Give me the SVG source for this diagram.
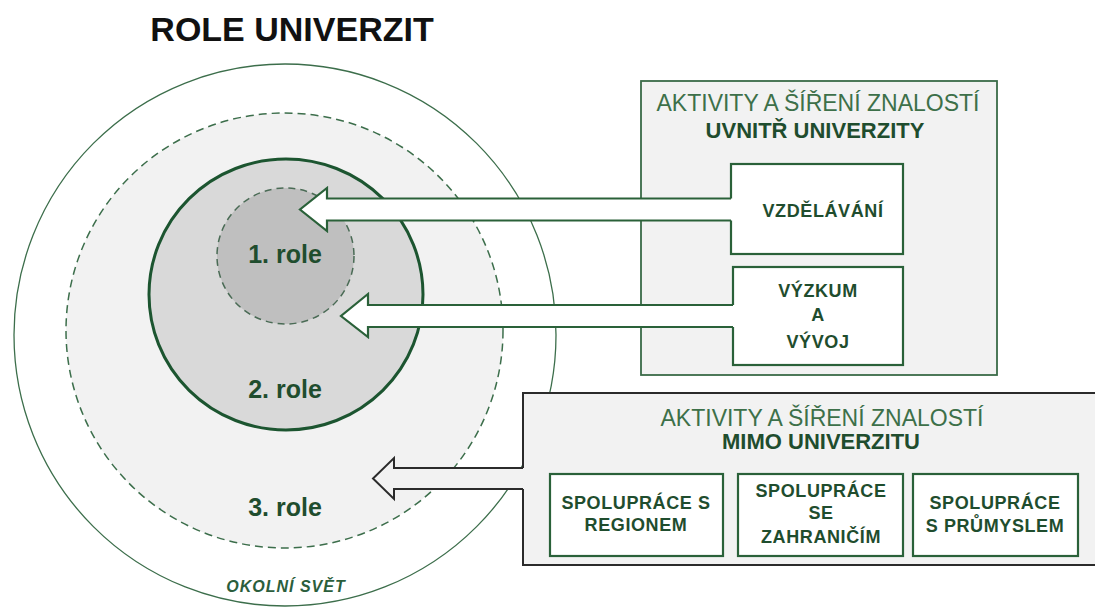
<svg xmlns="http://www.w3.org/2000/svg" width="1095" height="607" viewBox="0 0 1095 607">
<style>
text{font-family:"Liberation Sans",Arial,sans-serif;text-anchor:middle}
.title{font-size:34px;font-weight:bold;fill:#111}
.role{font-size:25px;font-weight:bold;fill:#1f4d2e}
.world{font-size:16px;font-weight:bold;font-style:italic;fill:#2b5e3c;letter-spacing:1px}
.hd{font-size:23px;fill:#3d7049}
.hdb{font-size:22px;font-weight:bold;fill:#1f4d2e}
.lbl{font-size:18px;font-weight:bold;fill:#1f4d2e;letter-spacing:0.6px}
.cont{fill:#f2f2f2;stroke:#3a6b48;stroke-width:1.8}
.sub{fill:#fff;stroke:#2a6139;stroke-width:2.2}
.arrF{fill:#fff;stroke:none}
.arrS{fill:none;stroke:#2a6139;stroke-width:2.2;stroke-linejoin:miter}
</style>
<text class="title" x="292" y="41">ROLE UNIVERZIT</text>
<g id="world">
<circle cx="285" cy="335" r="271" fill="#fff" stroke="#3c6e4b" stroke-width="1.3"/>
<text class="world" x="286" y="592">OKOLNÍ SVĚT</text>
</g>
<g id="role3">
<ellipse cx="284.5" cy="330.5" rx="218.5" ry="217.5" fill="#f2f2f2" stroke="#3c6e4b" stroke-width="1.5" stroke-dasharray="8 5"/>
<text class="role" x="285" y="516">3. role</text>
</g>
<g id="role2">
<ellipse cx="286" cy="294.5" rx="137" ry="135.5" fill="#d9d9d9" stroke="#1c5530" stroke-width="3"/>
<text class="role" x="285" y="398">2. role</text>
</g>
<g id="role1">
<ellipse cx="285.5" cy="256" rx="68.5" ry="68" fill="#bfbfbf" stroke="#4a6b55" stroke-width="1.5" stroke-dasharray="7 5"/>
<text class="role" x="285" y="263">1. role</text>
</g>
<g id="inside">
<rect class="cont" x="641" y="81" width="356" height="294"/>
<text class="hd" x="818" y="111">AKTIVITY A ŠÍŘENÍ ZNALOSTÍ</text>
<text class="hdb" x="815" y="137.5">UVNITŘ UNIVERZITY</text>
</g>
<g id="vzdelavani">
<rect class="sub" x="731" y="164" width="172" height="90"/>
<text class="lbl" x="823" y="217">VZDĚLÁVÁNÍ</text>
</g>
<g id="vyzkum">
<rect class="sub" x="733" y="267" width="170" height="98"/>
<text class="lbl" x="818" y="297">VÝZKUM</text>
<text class="lbl" x="818" y="321">A</text>
<text class="lbl" x="818" y="348">VÝVOJ</text>
</g>
<g id="outside">
<rect x="523" y="393" width="600" height="172" fill="#f2f2f2" stroke="#2b2b2b" stroke-width="2"/>
<text class="hd" x="822" y="425.5">AKTIVITY A ŠÍŘENÍ ZNALOSTÍ</text>
<text class="hdb" x="821" y="448.5">MIMO UNIVERZITU</text>
</g>
<g id="region">
<rect class="sub" x="550" y="474" width="173" height="82"/>
<text class="lbl" x="636" y="509">SPOLUPRÁCE S</text>
<text class="lbl" x="636" y="531">REGIONEM</text>
</g>
<g id="zahranici">
<rect class="sub" x="738" y="474" width="165" height="82"/>
<text class="lbl" x="821" y="497">SPOLUPRÁCE</text>
<text class="lbl" x="821" y="519">SE</text>
<text class="lbl" x="821" y="543">ZAHRANIČÍM</text>
</g>
<g id="prumysl">
<rect class="sub" x="913" y="474" width="165" height="82"/>
<text class="lbl" x="995" y="509">SPOLUPRÁCE</text>
<text class="lbl" x="995" y="532">S PRŮMYSLEM</text>
</g>
<g id="connectors">
<path class="arrF" d="M733,198.5 H327 V188 L300,209.5 L327,231 V220.5 H733 Z"/>
<path class="arrS" d="M731,198.5 H327 V188 L300,209.5 L327,231 V220.5 H731"/>
<path class="arrF" d="M735,305 H368 V294 L341,316 L368,337 V327 H735 Z"/>
<path class="arrS" d="M733,305 H368 V294 L341,316 L368,337 V327 H733"/>
<path d="M525,468 H394 V458 L373,478.5 L394,499 V489 H525 Z" fill="#f2f2f2"/>
<path d="M523,468 H394 V458 L373,478.5 L394,499 V489 H523" fill="none" stroke="#2b2b2b" stroke-width="2"/>
</g>
</svg>
